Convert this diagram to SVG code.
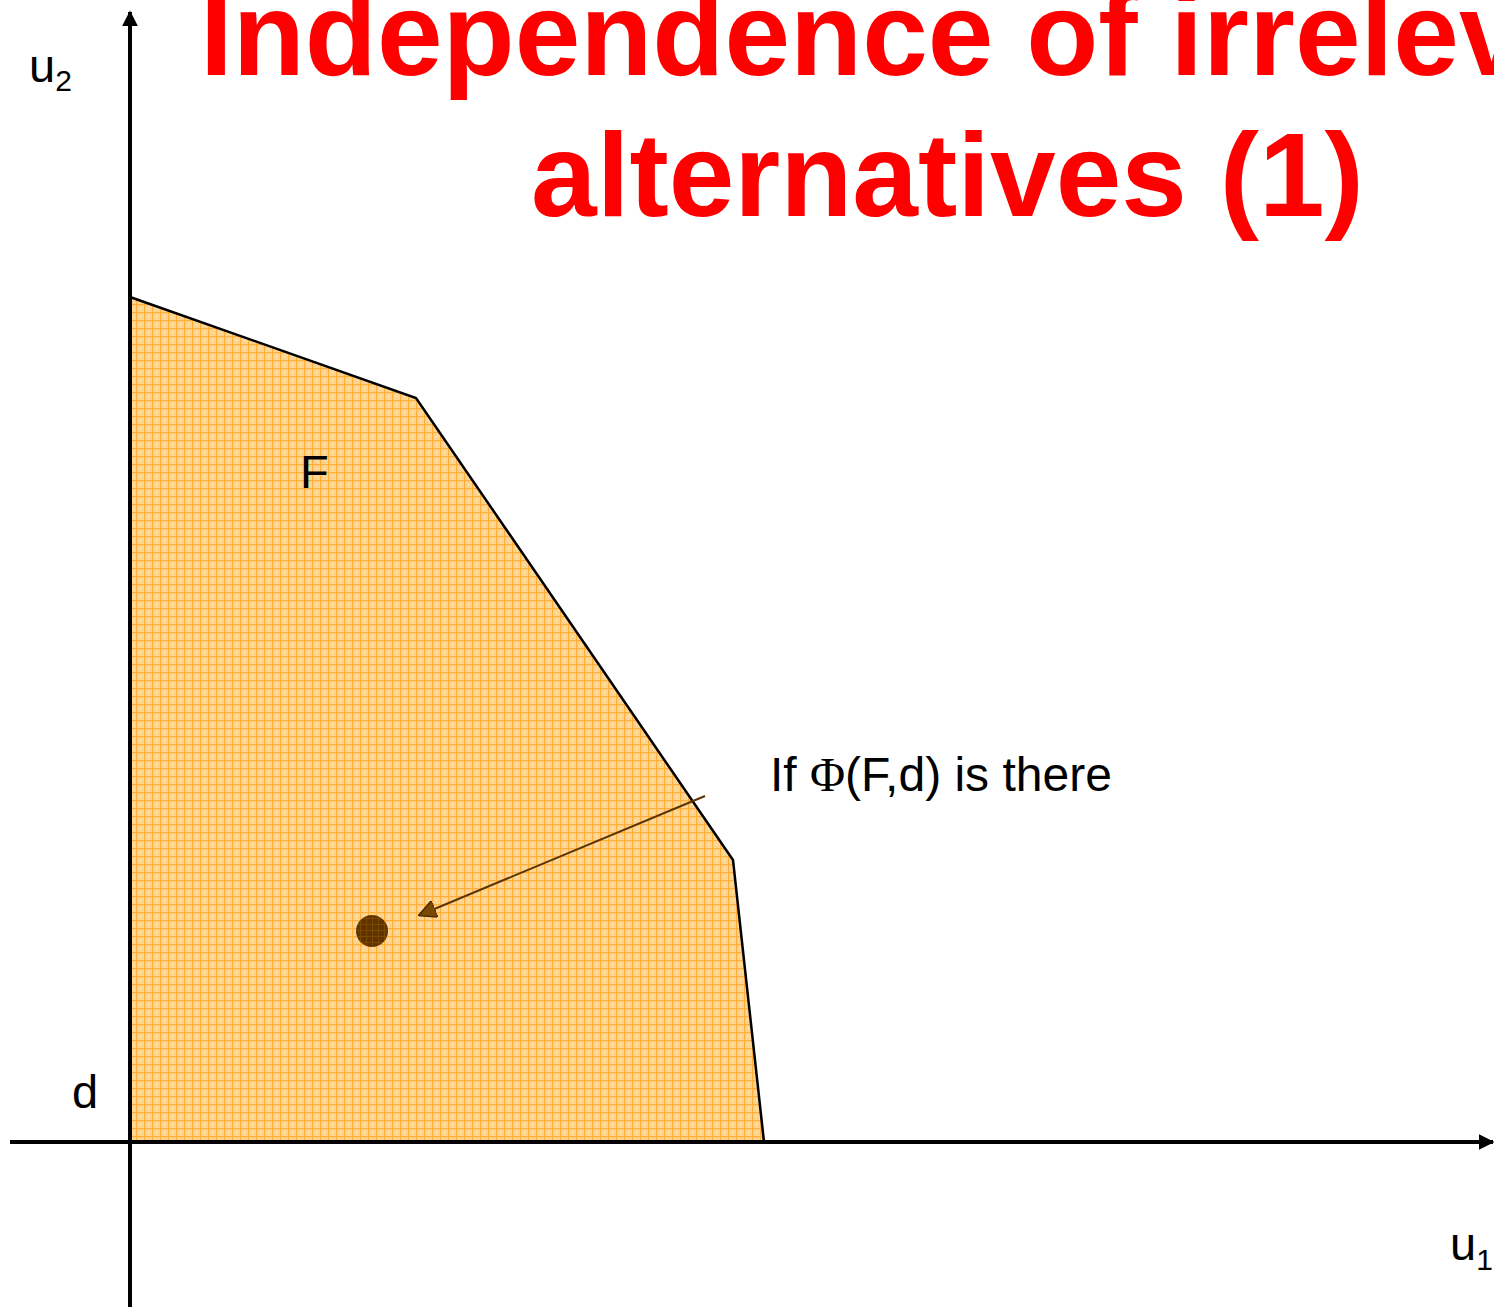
<svg xmlns="http://www.w3.org/2000/svg" width="1494" height="1307" viewBox="0 0 1494 1307">
<style>
.title{font-family:"Liberation Sans",Arial,sans-serif;font-weight:bold;font-size:118px;fill:#FF0000}
.lbl{font-family:"Liberation Sans",Arial,sans-serif;font-size:47px;fill:#000}
.sub{font-size:30px}
.axis{stroke:#000;stroke-width:4;fill:none}
</style>
<defs>
<pattern id="grid" width="8" height="8" patternUnits="userSpaceOnUse">
<rect width="8" height="8" fill="#FFD48F"/>
<rect x="0" y="0" width="8" height="1.2" fill="#FFAE3A"/>
<rect x="0" y="0" width="1.2" height="8" fill="#FFAE3A"/>
<rect x="4" y="4" width="1" height="1" fill="#FFF0D8"/>
</pattern>
<pattern id="dotgrid" width="6" height="6" patternUnits="userSpaceOnUse">
<rect width="6" height="6" fill="#5E3300"/>
<rect width="6" height="1" fill="#7A4800"/>
<rect width="1" height="6" fill="#7A4800"/>
</pattern>
<marker id="axhead" viewBox="0 0 10 10" refX="9" refY="5" markerWidth="4" markerHeight="4" orient="auto" markerUnits="strokeWidth">
<path d="M0,0 L10,5 L0,10 z" fill="#000"/>
</marker>
<marker id="brhead" viewBox="0 0 10 10" refX="9" refY="5" markerWidth="9" markerHeight="9" orient="auto" markerUnits="strokeWidth">
<path d="M0,0 L10,5 L0,10 z" fill="#7A4A00" stroke="#4A2A00" stroke-width="0.8"/>
</marker>
</defs>
<g id="region-F">
<polygon points="130,297 416,398 733,860 764,1142 130,1142" fill="url(#grid)" stroke="#000" stroke-width="2.5" stroke-linejoin="miter"/>
</g>
<g id="axes">
<line class="axis" x1="130" y1="1307" x2="130" y2="12" marker-end="url(#axhead)"/>
<line class="axis" x1="10" y1="1142" x2="1493" y2="1142" marker-end="url(#axhead)"/>
</g>
<g id="title">
<text class="title" x="200" y="75">Independence of irrelevant</text>
<text class="title" x="531" y="216">alternatives (1)</text>
</g>
<g id="label-u2"><text class="lbl" x="29" y="82">u<tspan class="sub" dy="9">2</tspan></text></g>
<g id="label-u1"><text class="lbl" x="1450" y="1260">u<tspan class="sub" dy="10">1</tspan></text></g>
<g id="label-d"><text class="lbl" x="72" y="1108">d</text></g>
<g id="label-F"><text class="lbl" x="300" y="488">F</text></g>
<g id="point-phi"><circle cx="372" cy="931" r="16" fill="url(#dotgrid)"/></g>
<g id="label-phi"><text class="lbl" x="770" y="791" style="font-size:48px">If <tspan font-family="'Liberation Serif',serif">Φ</tspan>(F,d) is there</text></g>
<g id="connectors">
<line x1="705" y1="796" x2="420" y2="915" stroke="#5A3300" stroke-width="2" marker-end="url(#brhead)"/>
</g>
</svg>
